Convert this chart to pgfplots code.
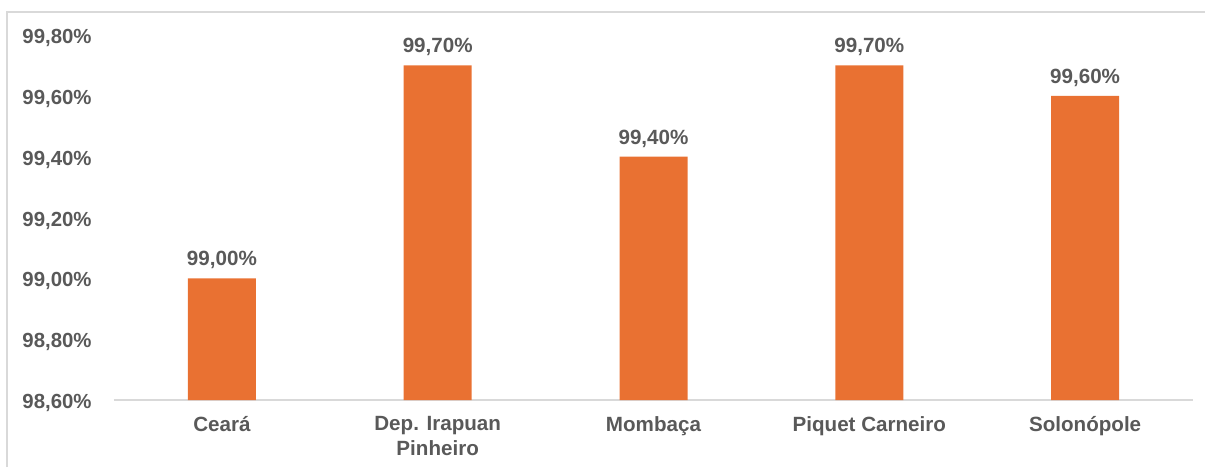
\documentclass[border=0pt]{standalone}
\usepackage{pgfplots}
\pgfplotsset{compat=1.18}
\usepackage{fontspec}
\setmainfont{Liberation Sans}
\definecolor{barorange}{HTML}{E97132}
\definecolor{txtgray}{HTML}{595959}
\definecolor{linegray}{HTML}{D9D9D9}

\begin{document}
\begin{tikzpicture}
% page frame (1px = 0.5pt)
\path[use as bounding box] (-57pt,-33.5pt) rectangle (545.5pt,200pt);
\draw[linegray, line width=0.75pt] (-53.5pt,-33.5pt) -- (-53.5pt,194pt) -- (545.5pt,194pt);
\begin{axis}[
    at={(0pt,0pt)}, anchor=south west,
    scale only axis, width=539.5pt, height=182.5pt,
    ybar, bar width=34pt,
    xmin=-0.5, xmax=4.5, ymin=98.6, ymax=99.8,
    axis x line*=bottom, axis y line*=left,
    y axis line style={draw=none},
    x axis line style={linegray, line width=0.75pt, -},
    major tick length=0pt,
    tick style={draw=none},
    xtick=data,
    xticklabels={Ceará, Dep. Irapuan\\Pinheiro, Mombaça, Piquet Carneiro, Solonópole},
    xticklabel style={anchor=north, inner sep=0pt, yshift=-8pt, align=center,
        font=\fontsize{10.3}{12.5}\selectfont\bfseries, text=txtgray},
    ytick={98.6,98.8,99.0,99.2,99.4,99.6,99.8},
    scaled y ticks=false,
    /pgf/number format/assume math mode=true,
    yticklabel={\pgfmathprintnumber[fixed,fixed zerofill,precision=2,use comma]{\tick}\%},
    yticklabel style={anchor=east, inner sep=0pt, xshift=-11pt, yshift=-1.5pt,
        font=\fontsize{10.2}{12}\selectfont\bfseries, text=txtgray},
    nodes near coords={\pgfmathprintnumber[fixed,fixed zerofill,precision=2,use comma]{\pgfplotspointmeta}\%},
    every node near coord/.append style={anchor=south, inner sep=0pt, yshift=4.5pt,
        font=\fontsize{10.3}{12}\selectfont\bfseries, text=txtgray},
]
\addplot[fill=barorange, draw=none] coordinates {(0,99.0) (1,99.7) (2,99.4) (3,99.7) (4,99.6)};
\end{axis}
\end{tikzpicture}
\end{document}
